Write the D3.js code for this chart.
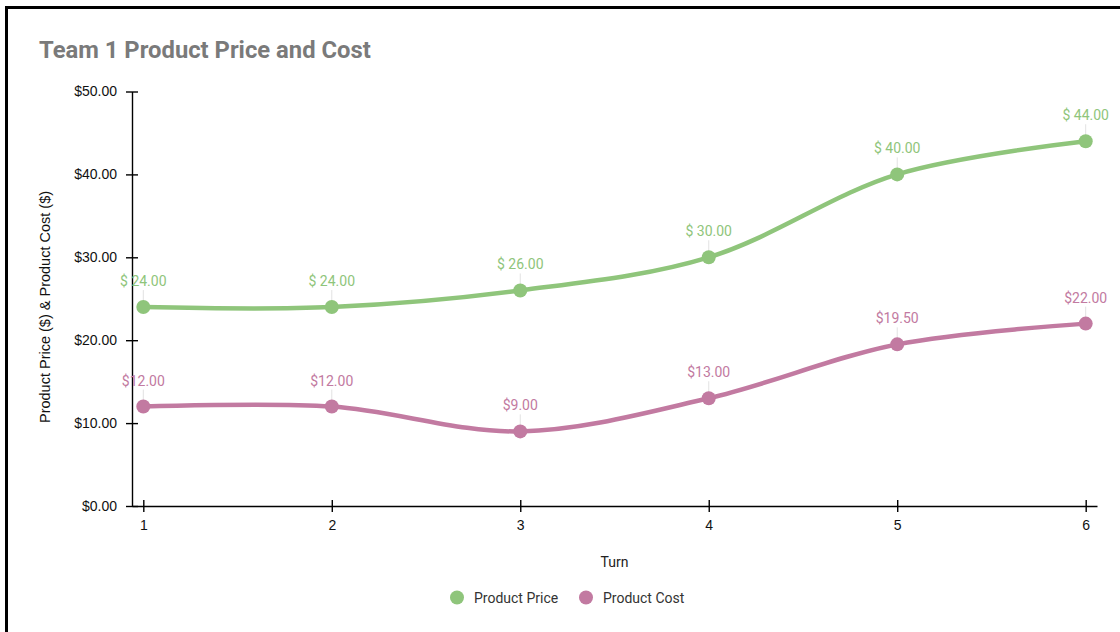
<!DOCTYPE html>
<html>
<head>
<meta charset="utf-8">
<script src="https://cdn.jsdelivr.net/npm/d3@7"></script>
<style>
  html, body { margin: 0; padding: 0; background: #fff; }
  svg { display: block; }
</style>
</head>
<body>
<svg id="chart" width="1120" height="632"></svg>
<script>
// Chart data
const turns = [1, 2, 3, 4, 5, 6];
const productPrice = [24, 24, 26, 30, 40, 44];
const productCost = [12, 12, 9, 13, 19.5, 22];
const yTicks = [0, 10, 20, 30, 40, 50];
const seriesNames = ["Product Price", "Product Cost"];
const seriesColors = ["#8fc57b", "#c27aa1"];

const svg = d3.select("#chart");

// Panel frame
svg.append("rect")
  .attr("x", 6.5).attr("y", 7.5)
  .attr("width", 1200).attr("height", 700)
  .attr("fill", "none").attr("stroke", "#000").attr("stroke-width", 3);

// Title
svg.append("text")
  .attr("x", 39).attr("y", 58)
  .attr("font-family", "Roboto, sans-serif")
  .attr("font-weight", "bold")
  .attr("font-size", 23.8)
  .attr("fill", "#7a7a7a")
  .text("Team 1 Product Price and Cost");

// Scales
const x = d3.scaleLinear().domain([0.94, 6.06]).range([132, 1097]);
const y = d3.scaleLinear().domain([0, 50]).range([506, 91.5]);

const fmtAxis = v => "$" + v.toFixed(2);

// Y axis
const yAxis = svg.append("g")
  .attr("transform", `translate(${x(0.94)},0)`)
  .call(d3.axisLeft(y).tickValues(yTicks).tickFormat(fmtAxis).tickSizeInner(6).tickSizeOuter(0).tickPadding(9));
yAxis.selectAll(".tick line").attr("x2", 6).attr("x1", -6);

// X axis
const xAxis = svg.append("g")
  .attr("transform", `translate(0,${y(0)})`)
  .call(d3.axisBottom(x).tickValues(turns).tickFormat(d3.format("d")).tickSizeInner(6).tickSizeOuter(0).tickPadding(8));
xAxis.selectAll(".tick line").attr("y1", -6).attr("y2", 6);

[yAxis, xAxis].forEach(a => {
  a.attr("font-size", 14).attr("font-family", "Liberation Sans, Arial, sans-serif");
  a.select(".domain").attr("stroke", "#000").attr("stroke-width", 1.4);
  a.selectAll(".tick line").attr("stroke", "#000").attr("stroke-width", 1.4);
  a.selectAll(".tick text").attr("fill", "#111");
});

// Axis titles
svg.append("text")
  .attr("transform", `translate(50,307) rotate(-90)`)
  .attr("text-anchor", "middle")
  .attr("font-family", "Liberation Sans, Arial, sans-serif")
  .attr("font-size", 14.5)
  .attr("fill", "#111")
  .text("Product Price ($) & Product Cost ($)");

svg.append("text")
  .attr("x", 614.5).attr("y", 567)
  .attr("text-anchor", "middle")
  .attr("font-family", "Roboto, sans-serif")
  .attr("font-size", 14)
  .attr("fill", "#222")
  .text("Turn");

// Series
const series = [
  { name: seriesNames[0], values: productPrice, color: seriesColors[0], label: v => "$ " + v.toFixed(2) },
  { name: seriesNames[1], values: productCost, color: seriesColors[1], label: v => "$" + v.toFixed(2) }
];

const line = d3.line()
  .x((d, i) => x(turns[i]))
  .y(d => y(d))
  .curve(d3.curveCatmullRom.alpha(0.5));

series.forEach(s => {
  const g = svg.append("g");
  // leader lines from label to point
  g.selectAll("line.leader").data(s.values).enter().append("line")
    .attr("x1", (d, i) => x(turns[i])).attr("x2", (d, i) => x(turns[i]))
    .attr("y1", d => y(d) - 17).attr("y2", d => y(d))
    .attr("stroke", "#e2e2e2").attr("stroke-width", 1);

  g.append("path")
    .datum(s.values)
    .attr("d", line)
    .attr("fill", "none")
    .attr("stroke", s.color)
    .attr("stroke-width", 4.5)
    .attr("stroke-linecap", "round");

  g.selectAll("circle").data(s.values).enter().append("circle")
    .attr("cx", (d, i) => x(turns[i]))
    .attr("cy", d => y(d))
    .attr("r", 7)
    .attr("fill", s.color);

  g.selectAll("text").data(s.values).enter().append("text")
    .attr("x", (d, i) => x(turns[i]))
    .attr("y", d => y(d) - 21)
    .attr("text-anchor", "middle")
    .attr("font-family", "Roboto, sans-serif")
    .attr("font-size", 14)
    .attr("fill", s.color)
    .text(d => s.label(d));
});

// Legend
const legendItems = [
  { name: seriesNames[0], color: seriesColors[0], cx: 457 },
  { name: seriesNames[1], color: seriesColors[1], cx: 586 }
];
const lg = svg.append("g");
legendItems.forEach(it => {
  lg.append("circle").attr("cx", it.cx).attr("cy", 597.5).attr("r", 7).attr("fill", it.color);
  lg.append("text")
    .attr("x", it.cx + 17).attr("y", 602.5)
    .attr("font-family", "Roboto, sans-serif")
    .attr("font-size", 14)
    .attr("fill", "#333")
    .text(it.name);
});
</script>
</body>
</html>
